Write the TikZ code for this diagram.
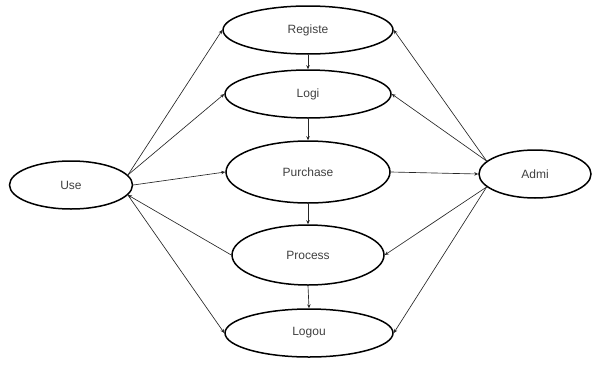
\documentclass[tikz,border=0pt]{standalone}
\usepackage{fontspec}
\setmainfont{Liberation Sans}
\usetikzlibrary{shapes.geometric,arrows.meta}

\begin{document}
\begin{tikzpicture}[x=1pt,y=1pt,yscale=-1,xscale=1,
  usecase/.style={draw,ellipse,line width=1.5pt,inner sep=0pt,font=\fontsize{12}{14}\selectfont,text=black!75},
  link/.style={draw=black!85,line width=0.65pt,-{Stealth[length=4pt,width=3.5pt]}}]
\useasboundingbox (0,0) rectangle (593,364);

% Actors
\node [usecase,minimum width=123,minimum height=48] (use) at (71,185) {Use};
\node [usecase,minimum width=112,minimum height=48] (admi) at (535,174) {Admi};

% Use cases
\node [usecase,minimum width=170,minimum height=48] (reg) at (308,30) {Registe};
\node [usecase,minimum width=166,minimum height=48] (logi) at (308,94) {Logi};
\node [usecase,minimum width=164,minimum height=62] (purch) at (308,172) {Purchase};
\node [usecase,minimum width=152,minimum height=60] (proc) at (308,255) {Process};
\node [usecase,minimum width=168,minimum height=48] (logou) at (309,333) {Logou};

% Use links
\draw [link] (use.10) -- (reg.west);
\draw [link] (use.10) -- (logi.west);
\draw [link] (use.east) -- (purch.west);
\draw [link] (proc.west) -- (use.-10);
\draw [link] (use.-10) -- (logou.west);

% Admi links
\draw [link] (admi.165) -- (reg.east);
\draw [link] (admi.165) -- (logi.east);
\draw [link] (purch.east) -- (admi.west);
\draw [link] (admi.195) -- (proc.east);
\draw [link] (admi.195) -- (logou.east);

% Flow
\draw [link] (reg.south) -- (logi.north);
\draw [link] (logi.south) -- (purch.north);
\draw [link] (purch.south) -- (proc.north);
\draw [link] (proc.south) -- (logou.north);

\end{tikzpicture}
\end{document}
